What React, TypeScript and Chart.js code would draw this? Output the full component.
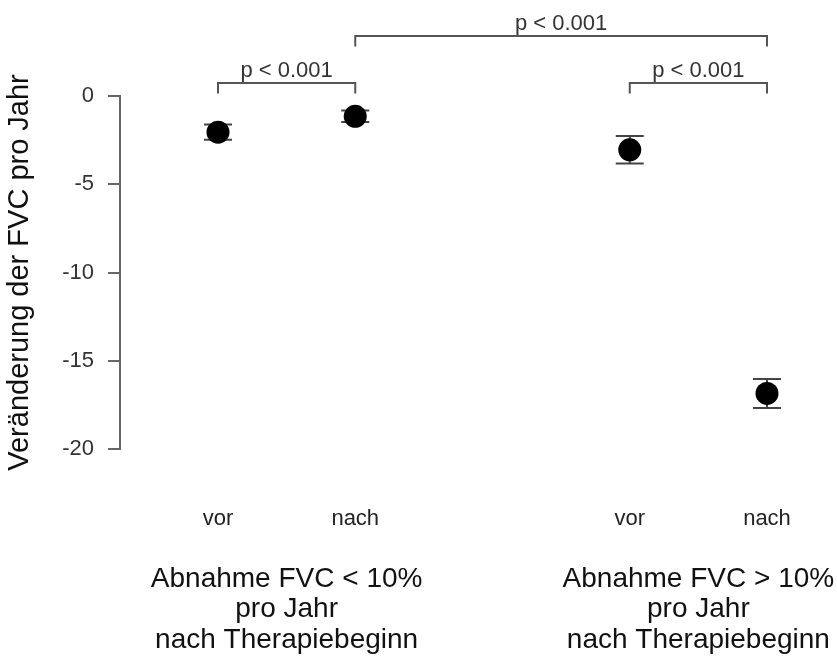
import React, { useEffect, useRef } from "react";
import { Chart, registerables } from "chart.js";

Chart.register(...registerables);

// ---- data ----
const categories = ["vor", "nach", "vor", "nach"];
const xPositions = [1, 2, 4, 5];
const means = [-2.05, -1.15, -3.05, -16.85];
const errors = [0.43, 0.33, 0.78, 0.82];
const yTicks = [0, -5, -10, -15, -20];
const groupCenters = [1.5, 4.5];
const groupLabels = [
  ["Abnahme FVC < 10%", "pro Jahr", "nach Therapiebeginn"],
  ["Abnahme FVC > 10%", "pro Jahr", "nach Therapiebeginn"],
];
const comparisonFrom = [0, 2, 1];
const comparisonTo = [1, 3, 3];
const comparisonLevel = [0, 0, 1];
const comparisonLabels = ["p < 0.001", "p < 0.001", "p < 0.001"];
const yTitle = "Veränderung der FVC pro Jahr";

const FONT = "'Liberation Sans', Arial, Helvetica, sans-serif";

const overlayPlugin = {
  id: "overlay",
  beforeDatasetsDraw(chart: any) {
    const ctx = chart.ctx;
    const x = chart.scales.x;
    const y = chart.scales.y;
    ctx.save();
    ctx.strokeStyle = "#444";
    ctx.lineWidth = 2;
    for (let i = 0; i < means.length; i++) {
      const px = x.getPixelForValue(xPositions[i]);
      const top = y.getPixelForValue(means[i] + errors[i]);
      const bot = y.getPixelForValue(means[i] - errors[i]);
      ctx.beginPath();
      ctx.moveTo(px, top);
      ctx.lineTo(px, bot);
      ctx.moveTo(px - 14, top);
      ctx.lineTo(px + 14, top);
      ctx.moveTo(px - 14, bot);
      ctx.lineTo(px + 14, bot);
      ctx.stroke();
    }
    ctx.restore();
  },
  afterDraw(chart: any) {
    const ctx = chart.ctx;
    const x = chart.scales.x;
    const y = chart.scales.y;
    ctx.save();
    // brackets
    const base = y.getPixelForValue(0);
    for (let i = 0; i < comparisonFrom.length; i++) {
      const x1 = x.getPixelForValue(xPositions[comparisonFrom[i]]);
      const x2 = x.getPixelForValue(xPositions[comparisonTo[i]]);
      const lineY = base - 13 - comparisonLevel[i] * 47;
      const tickY = lineY + 10.5;
      ctx.strokeStyle = "#555";
      ctx.lineWidth = 2;
      ctx.beginPath();
      ctx.moveTo(x1, tickY);
      ctx.lineTo(x1, lineY);
      ctx.lineTo(x2, lineY);
      ctx.lineTo(x2, tickY);
      ctx.stroke();
      ctx.fillStyle = "#333";
      ctx.font = `22px ${FONT}`;
      ctx.textAlign = "center";
      ctx.textBaseline = "alphabetic";
      ctx.fillText(comparisonLabels[i], (x1 + x2) / 2, lineY - 6);
    }
    // category labels
    const bottom = chart.chartArea.bottom;
    ctx.fillStyle = "#222";
    ctx.font = `22px ${FONT}`;
    ctx.textAlign = "center";
    ctx.textBaseline = "middle";
    for (let i = 0; i < categories.length; i++) {
      ctx.fillText(categories[i], x.getPixelForValue(xPositions[i]), bottom + 70);
    }
    // group labels
    ctx.fillStyle = "#111";
    ctx.font = `28px ${FONT}`;
    for (let g = 0; g < groupCenters.length; g++) {
      const cx = x.getPixelForValue(groupCenters[g]);
      groupLabels[g].forEach((line, j) => {
        ctx.fillText(line, cx, bottom + 130 + j * 30.5);
      });
    }
    ctx.restore();
  },
};

export default function App() {
  const ref = useRef<HTMLCanvasElement | null>(null);
  useEffect(() => {
    document.body.style.margin = "0";
    const chart = new Chart(ref.current as HTMLCanvasElement, {
      type: "scatter",
      data: {
        datasets: [
          {
            data: xPositions.map((v, i) => ({ x: v, y: means[i] })),
            pointRadius: 11.5,
            pointHoverRadius: 11.5,
            backgroundColor: "#000",
            borderWidth: 0,
            clip: false,
          },
        ],
      },
      options: {
        animation: false,
        responsive: false,
        events: [],
        layout: {
          autoPadding: false,
          padding: { top: 96, right: 0, left: 0, bottom: 208 },
        },
        plugins: { legend: { display: false }, tooltip: { enabled: false } },
        scales: {
          x: {
            type: "linear",
            display: false,
            min: 0.286,
            max: 5.51,
          },
          y: {
            type: "linear",
            min: -20,
            max: 0,
            afterBuildTicks: (scale: any) => {
              scale.ticks = yTicks.map((v) => ({ value: v }));
            },
            afterFit: (scale: any) => {
              scale.width = 120;
            },
            grid: {
              drawOnChartArea: false,
              drawTicks: true,
              tickLength: 12,
              color: "#666",
              lineWidth: 2,
            },
            border: { display: true, color: "#666", width: 2 },
            ticks: {
              padding: 14,
              color: "#333",
              font: { family: FONT, size: 22 },
            },
            title: {
              display: true,
              text: yTitle,
              color: "#111",
              font: { family: FONT, size: 29 },
              padding: { top: 3, bottom: 0 },
            },
          },
        },
      },
      plugins: [overlayPlugin],
    } as any);
    return () => chart.destroy();
  }, []);
  return (
    <div style={{ position: "absolute", left: 0, top: 0, width: 837, height: 657 }}>
      <canvas ref={ref} width={837} height={657} />
    </div>
  );
}
